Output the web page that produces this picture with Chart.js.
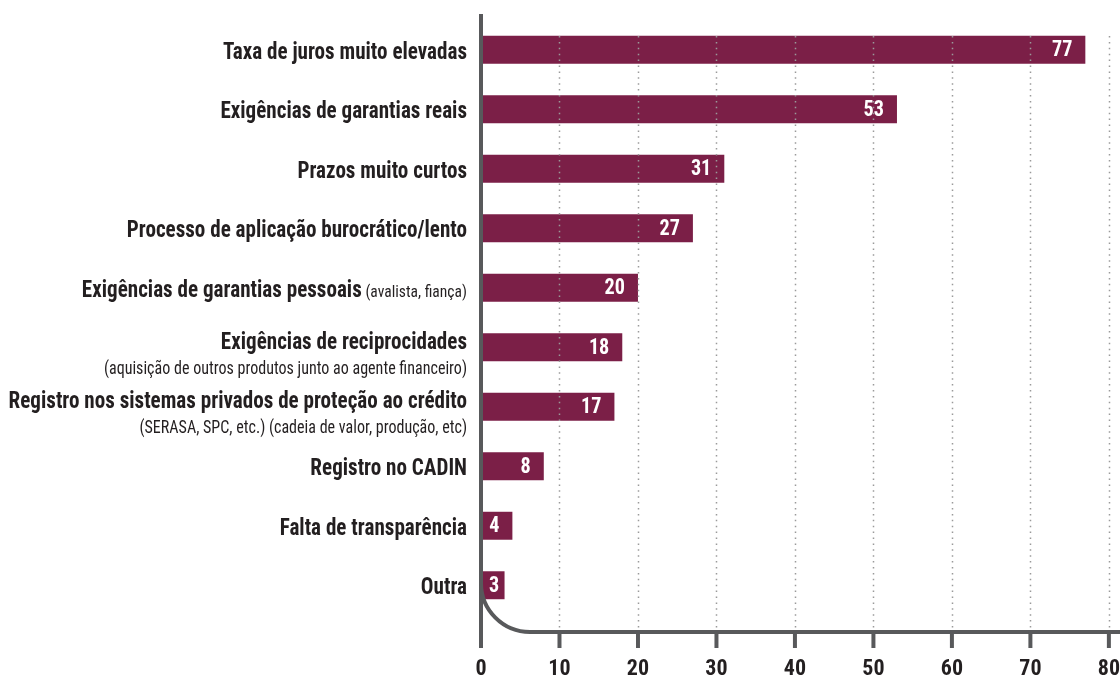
<!DOCTYPE html>
<html>
<head>
<meta charset="utf-8">
<script src="https://cdn.jsdelivr.net/npm/chart.js@4.4.1/dist/chart.umd.min.js"></script>
<style>
  html, body { margin: 0; padding: 0; background: #ffffff; }
  #wrap { width: 1120px; height: 675px; position: relative; }
</style>
</head>
<body>
<div id="wrap"><canvas id="c" width="1120" height="675"></canvas></div>
<script>
// ---- data ----
const categories = [
  'Taxa de juros muito elevadas',
  'Exigências de garantias reais',
  'Prazos muito curtos',
  'Processo de aplicação burocrático/lento',
  'Exigências de garantias pessoais',
  'Exigências de reciprocidades',
  'Registro nos sistemas privados de proteção ao crédito',
  'Registro no CADIN',
  'Falta de transparência',
  'Outra'
];
const inlineNotes = ['', '', '', '', '(avalista, fiança)', '', '', '', '', ''];
const belowNotes = ['', '', '', '', '',
  '(aquisição de outros produtos junto ao agente financeiro)',
  '(SERASA, SPC, etc.) (cadeia de valor, produção, etc)',
  '', '', ''];
const values = [77, 53, 31, 27, 20, 18, 17, 8, 4, 3];
const xTicks = [0, 10, 20, 30, 40, 50, 60, 70, 80];

// ---- style ----
const BAR = '#7b1f47';
const AXIS = '#58595b';
const TEXT = '#231f20';
const FAM = '"Roboto Condensed", "Liberation Sans Narrow", "DejaVu Sans Condensed", "Liberation Sans", sans-serif';

function fitScale(ctx) {
  ctx.save();
  ctx.font = 'bold 23px ' + FAM;
  const w = ctx.measureText('Taxa de juros muito elevadas').width;
  ctx.restore();
  return Math.min(1, 244 / w);
}

const decor = {
  id: 'decor',
  afterDatasetsDraw(chart) {
    const ctx = chart.ctx;
    const xs = chart.scales.x, ys = chart.scales.y;
    const area = chart.chartArea;
    const x0 = xs.getPixelForValue(0);
    const axisY = area.bottom + 17;
    // dotted grid (over bars)
    ctx.save();
    ctx.strokeStyle = '#9a9a9a';
    ctx.lineWidth = 1.5;
    ctx.setLineDash([1.5, 4.4]);
    xTicks.forEach(t => {
      if (t === 0) return;
      const x = Math.round(xs.getPixelForValue(t)) + 0.5;
      ctx.beginPath();
      ctx.moveTo(x, area.top + 16);
      ctx.lineTo(x, axisY - 2);
      ctx.stroke();
    });
    ctx.restore();

    // axes
    ctx.save();
    ctx.strokeStyle = AXIS;
    ctx.lineWidth = 4;
    ctx.lineCap = 'butt';
    ctx.beginPath();
    ctx.moveTo(x0, 14);
    ctx.lineTo(x0, axisY + 16);
    ctx.stroke();
    const r = 49;
    ctx.beginPath();
    ctx.arc(x0 + r, axisY - r, r, Math.PI, Math.PI / 2, true);
    ctx.lineTo(chart.width, axisY);
    ctx.stroke();
    xTicks.forEach(t => {
      if (t === 0) return;
      const x = xs.getPixelForValue(t);
      ctx.beginPath();
      ctx.moveTo(x, axisY);
      ctx.lineTo(x, axisY + 16);
      ctx.stroke();
    });
    ctx.restore();

    const sx = fitScale(ctx);

    // value labels
    const meta = chart.getDatasetMeta(0);
    ctx.save();
    ctx.fillStyle = '#ffffff';
    ctx.font = 'bold 22px ' + FAM;
    ctx.textAlign = 'right';
    ctx.textBaseline = 'middle';
    meta.data.forEach((bar, i) => {
      const txt = String(values[i]);
      const w = ctx.measureText(txt).width * sx;
      const xr = Math.max(bar.x - 13, x0 + 8 + w);
      ctx.save();
      ctx.translate(xr, bar.y + 1);
      ctx.scale(sx, 1);
      ctx.fillText(txt, 0, 0);
      ctx.restore();
    });
    ctx.restore();

    // category labels
    const right = x0 - 14;
    ctx.save();
    ctx.fillStyle = TEXT;
    ctx.textAlign = 'right';
    ctx.textBaseline = 'alphabetic';
    categories.forEach((lab, i) => {
      const yc = ys.getPixelForValue(i);
      const hasBelow = belowNotes[i] !== '';
      const base = hasBelow ? yc + 1.5 : yc + 9;
      ctx.save();
      ctx.translate(right, base);
      ctx.scale(sx, 1);
      let xEnd = 0;
      if (inlineNotes[i]) {
        ctx.font = '17px ' + FAM;
        const w = ctx.measureText(inlineNotes[i]).width;
        ctx.fillText(inlineNotes[i], 0, 0);
        xEnd = -w - 4;
      }
      ctx.font = 'bold 23px ' + FAM;
      ctx.fillText(lab, xEnd, 0);
      if (hasBelow) {
        ctx.font = '17.5px ' + FAM;
        ctx.fillText(belowNotes[i], 0, 25);
      }
      ctx.restore();
    });
    ctx.restore();
  }
};

new Chart(document.getElementById('c'), {
  type: 'bar',
  data: {
    labels: categories,
    datasets: [{
      data: values,
      backgroundColor: BAR,
      borderWidth: 0,
      categoryPercentage: 1,
      barPercentage: 0.47
    }]
  },
  options: {
    indexAxis: 'y',
    responsive: false,
    animation: false,
    events: [],
    layout: { padding: { top: 20, right: 11, bottom: 0, left: 0 } },
    plugins: { legend: { display: false }, tooltip: { enabled: false } },
    scales: {
      y: {
        ticks: { display: false },
        grid: { display: false },
        border: { display: false },
        afterFit(scale) { scale.width = 481; }
      },
      x: {
        min: 0, max: 80,
        afterBuildTicks(scale) { scale.ticks = xTicks.map(v => ({ value: v })); },
        ticks: {
          color: TEXT,
          font: { family: FAM, size: 22, weight: 'bold', lineHeight: 1 },
          padding: 0,
          maxRotation: 0
        },
        grid: { display: false, drawTicks: true, tickLength: 43 },
        border: { display: false },
        afterFit(scale) { scale.height = 60; }
      }
    }
  },
  plugins: [decor]
});
</script>
</body>
</html>
